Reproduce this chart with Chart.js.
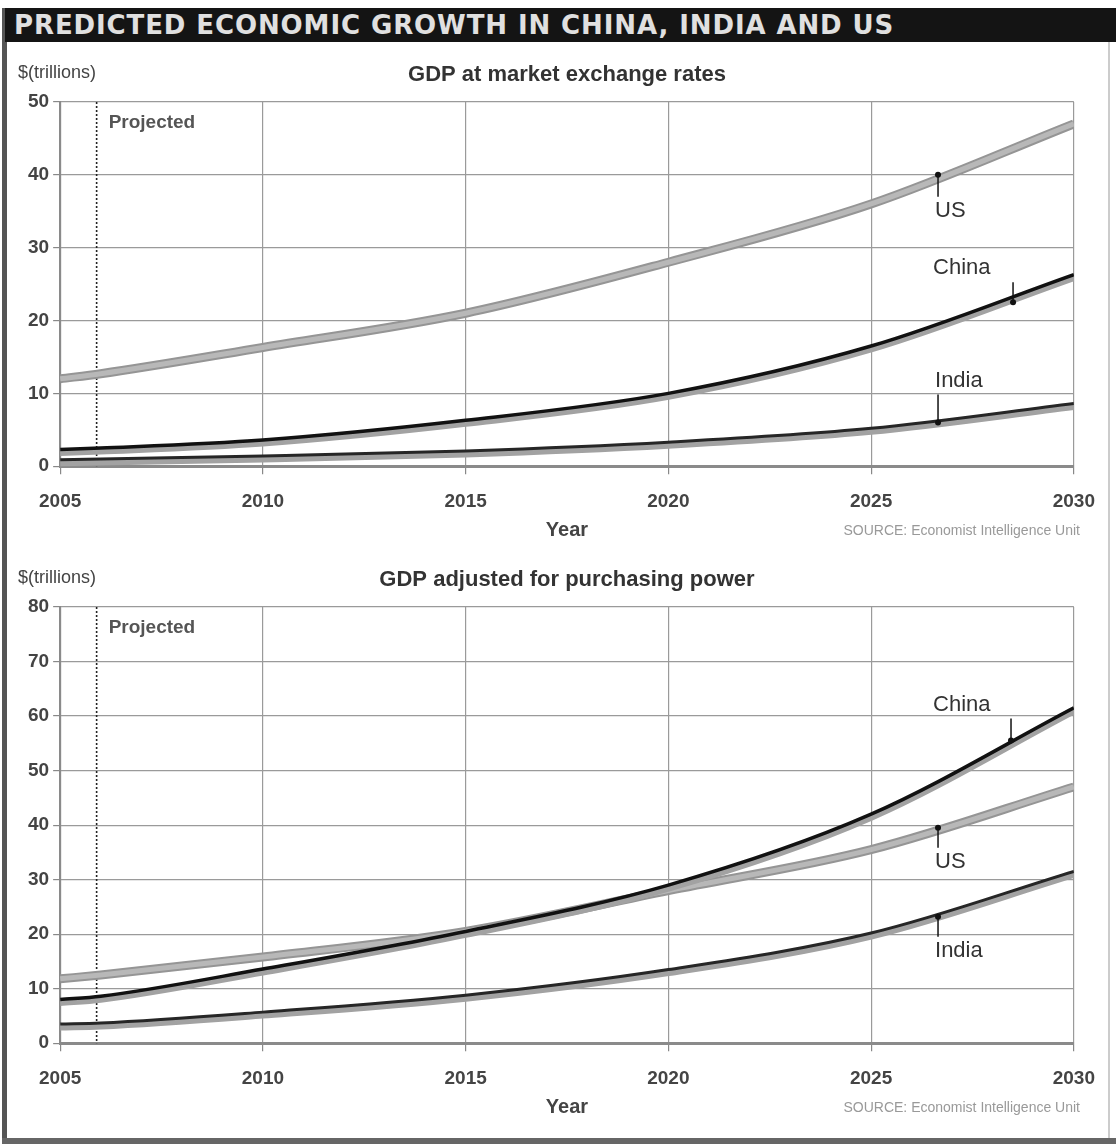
<!DOCTYPE html>
<html>
<head>
<meta charset="utf-8">
<script src="https://cdn.jsdelivr.net/npm/chart.js@4.4.1/dist/chart.umd.min.js"></script>
<style>
  body { margin: 0; background: #fff; }
  #page { position: relative; width: 1116px; height: 1144px; overflow: hidden; background: #fff; }
  #banner {
    position: absolute; left: 5px; top: 8px; width: 1111px; height: 34px;
    background: #141414; color: #e0e0e0;
    font: bold 26px "DejaVu Sans", Verdana, sans-serif; letter-spacing: 0.9px;
    line-height: 34px; padding-left: 9px; box-sizing: border-box; white-space: nowrap;
  }
  #frameLeft { position: absolute; left: 2px; top: 8px; width: 5px; height: 1136px; background: #555; }
  #frameBottom { position: absolute; left: 2px; top: 1138px; width: 1114px; height: 6px; background: #666; }
  #frameRight { position: absolute; left: 1108px; top: 42px; width: 2px; height: 1096px; background: #ccc; }
  canvas { position: absolute; left: 0; }
</style>
</head>
<body>
<div id="page">
  <div id="frameLeft"></div>
  <div id="frameRight"></div>
  <div id="frameBottom"></div>
  <div id="banner">PREDICTED ECONOMIC GROWTH IN CHINA, INDIA AND US</div>
  <canvas id="marketChart" width="1111" height="505" style="top:44px"></canvas>
  <canvas id="pppChart" width="1111" height="588" style="top:550px"></canvas>
</div>
<script>
// ---- data ($ trillions)
const years = [2005, 2006, 2010, 2015, 2020, 2025, 2030];
const xTicks = [2005, 2010, 2015, 2020, 2025, 2030];
const projectedYear = 2005.9;

// GDP at market exchange rates
const usMarket    = [12.0, 12.7, 16.3, 21.0, 28.0, 36.0, 47.0];
const chinaMarket = [2.3, 2.5, 3.6, 6.3, 10.0, 16.5, 26.3];
const indiaMarket = [0.9, 1.0, 1.4, 2.1, 3.3, 5.2, 8.6];
const marketYTicks = [0, 10, 20, 30, 40, 50];

// GDP adjusted for purchasing power
const usPPP    = [11.8, 12.5, 15.8, 20.5, 28.0, 35.5, 47.0];
const chinaPPP = [8.0, 8.6, 13.6, 20.5, 29.0, 42.0, 61.5];
const indiaPPP = [3.5, 3.7, 5.7, 8.8, 13.5, 20.2, 31.5];
const pppYTicks = [0, 10, 20, 30, 40, 50, 60, 70, 80];

// where the country callouts sit on each line
const calloutNames = ['US', 'China', 'India'];
const marketCalloutYears = [2026.65, 2028.5, 2026.65];
const marketCalloutValues = [40, 22.5, 6.0];
const pppCalloutYears = [2026.65, 2028.45, 2026.65];
const pppCalloutValues = [39.5, 55.5, 23.2];

const toPoints = (vals) => years.map((x, i) => ({ x: x, y: vals[i] }));

// text placement for callouts (pixels relative to the anchor point)
const calloutStyle = {
  market: { US: { dir: 'down', len: 22, tx: 0 }, China: { dir: 'up', len: 20, tx: -77 }, India: { dir: 'up', len: 28, tx: 0 } },
  ppp:    { US: { dir: 'down', len: 20, tx: 0 }, China: { dir: 'up', len: 22, tx: -75 }, India: { dir: 'down', len: 20, tx: 0 } }
};

// shift the grey "shadow" bands a few pixels under the black lines
const bandShift = {
  id: 'bandShift',
  beforeDatasetDraw(chart, args) {
    const ds = chart.data.datasets[args.index];
    chart.ctx.save();
    if (ds.shiftY) chart.ctx.translate(0, ds.shiftY);
  },
  afterDatasetDraw(chart) {
    chart.ctx.restore();
  }
};

const makeDecor = (title, key, cYears, cValues) => ({
  id: 'decor',
  beforeDatasetsDraw(chart) {
    const { ctx, chartArea, scales } = chart;
    // dotted "projected" divider
    const px = scales.x.getPixelForValue(projectedYear);
    ctx.save();
    ctx.strokeStyle = '#222';
    ctx.lineWidth = 1.6;
    ctx.setLineDash([2, 2]);
    ctx.beginPath();
    ctx.moveTo(px, chartArea.top);
    ctx.lineTo(px, chartArea.bottom);
    ctx.stroke();
    ctx.restore();
  },
  afterDraw(chart) {
    const { ctx, chartArea, scales } = chart;
    const midX = (chartArea.left + chartArea.right) / 2;
    ctx.save();
    ctx.textBaseline = 'middle';
    // headline above the plot
    ctx.fillStyle = '#333';
    ctx.font = 'bold 22px "Liberation Sans", Arial, sans-serif';
    ctx.textAlign = 'center';
    ctx.fillText(title, midX, chartArea.top - 27);
    ctx.font = '18px "Liberation Sans", Arial, sans-serif';
    ctx.textAlign = 'left';
    ctx.fillStyle = '#444';
    ctx.fillText('$(trillions)', 18, chartArea.top - 29);
    // projected
    ctx.font = 'bold 19px "Liberation Sans", Arial, sans-serif';
    ctx.fillStyle = '#555';
    ctx.fillText('Projected', scales.x.getPixelForValue(projectedYear) + 12, chartArea.top + 21);
    // x axis title and source
    ctx.font = 'bold 20px "Liberation Sans", Arial, sans-serif';
    ctx.fillStyle = '#444';
    ctx.textAlign = 'center';
    ctx.fillText('Year', midX, chartArea.bottom + 64);
    ctx.font = '14px "Liberation Sans", Arial, sans-serif';
    ctx.fillStyle = '#999';
    ctx.textAlign = 'right';
    ctx.fillText('SOURCE: Economist Intelligence Unit', 1080, chartArea.bottom + 65);
    // callouts
    calloutNames.forEach((name, i) => {
      const st = calloutStyle[key][name];
      const x = scales.x.getPixelForValue(cYears[i]);
      const y = scales.y.getPixelForValue(cValues[i]);
      const y2 = st.dir === 'down' ? y + st.len : y - st.len;
      ctx.strokeStyle = '#111';
      ctx.lineWidth = 1.5;
      ctx.beginPath();
      ctx.moveTo(x, y);
      ctx.lineTo(x, y2);
      ctx.stroke();
      ctx.fillStyle = '#111';
      ctx.beginPath();
      ctx.arc(x, y, 3, 0, Math.PI * 2);
      ctx.fill();
      ctx.font = '22px "Liberation Sans", Arial, sans-serif';
      ctx.fillStyle = '#333';
      ctx.textAlign = 'left';
      const ty = st.dir === 'down' ? y2 + 14 : y2 - 14;
      ctx.fillText(name, x - 3 + st.tx, ty);
    });
    ctx.restore();
  }
});

const buildChart = (canvasId, us, china, india, yTicks, yMax, title, key, cYears, cValues, pad) => {
  const ctx = document.getElementById(canvasId).getContext('2d');
  return new Chart(ctx, {
    type: 'line',
    data: {
      datasets: [
        { label: 'China', data: toPoints(china), borderColor: '#111', borderWidth: 3.5, order: 0 },
        { label: 'India', data: toPoints(india), borderColor: '#262626', borderWidth: 3, order: 0 },
        { label: 'China band', data: toPoints(china), borderColor: '#a2a2a2', borderWidth: 7, shiftY: 3, order: 1 },
        { label: 'India band', data: toPoints(india), borderColor: '#a2a2a2', borderWidth: 7, shiftY: 3, order: 1 },
        { label: 'US inner', data: toPoints(us), borderColor: '#b8b8b8', borderWidth: 5, order: 2 },
        { label: 'US', data: toPoints(us), borderColor: '#959595', borderWidth: 9, order: 3 }
      ]
    },
    options: {
      responsive: false,
      animation: false,
      layout: { padding: pad },
      elements: {
        point: { radius: 0 },
        line: { cubicInterpolationMode: 'monotone', fill: false, borderCapStyle: 'butt' }
      },
      scales: {
        x: {
          type: 'linear',
          min: 2005,
          max: 2030,
          afterBuildTicks: (axis) => { axis.ticks = xTicks.map(v => ({ value: v })); },
          ticks: {
            callback: (v) => String(v),
            color: '#444',
            padding: 16,
            maxRotation: 0,
            font: { family: '"Liberation Sans", Arial, sans-serif', size: 19, weight: 'bold' }
          },
          grid: { color: '#9a9a9a', lineWidth: 1.2, tickLength: 8, tickColor: '#888' },
          border: { color: '#8a8a8a', width: 3 }
        },
        y: {
          min: 0,
          max: yMax,
          afterBuildTicks: (axis) => { axis.ticks = yTicks.map(v => ({ value: v })); },
          ticks: {
            color: '#444',
            padding: 4,
            font: { family: '"Liberation Sans", Arial, sans-serif', size: 19, weight: 'bold' }
          },
          grid: { color: '#9a9a9a', lineWidth: 1.2, tickLength: 7, tickColor: '#888' },
          border: { color: '#8a8a8a', width: 2 }
        }
      },
      plugins: {
        legend: { display: false },
        tooltip: { enabled: false }
      }
    },
    plugins: [bandShift, makeDecor(title, key, cYears, cValues)]
  });
};

buildChart('marketChart', usMarket, chinaMarket, indiaMarket, marketYTicks, 50,
  'GDP at market exchange rates', 'market', marketCalloutYears, marketCalloutValues,
  { top: 58, left: 24, right: 28, bottom: 20 });

buildChart('pppChart', usPPP, chinaPPP, indiaPPP, pppYTicks, 80,
  'GDP adjusted for purchasing power', 'ppp', pppCalloutYears, pppCalloutValues,
  { top: 57, left: 24, right: 28, bottom: 32 });
</script>
</body>
</html>
